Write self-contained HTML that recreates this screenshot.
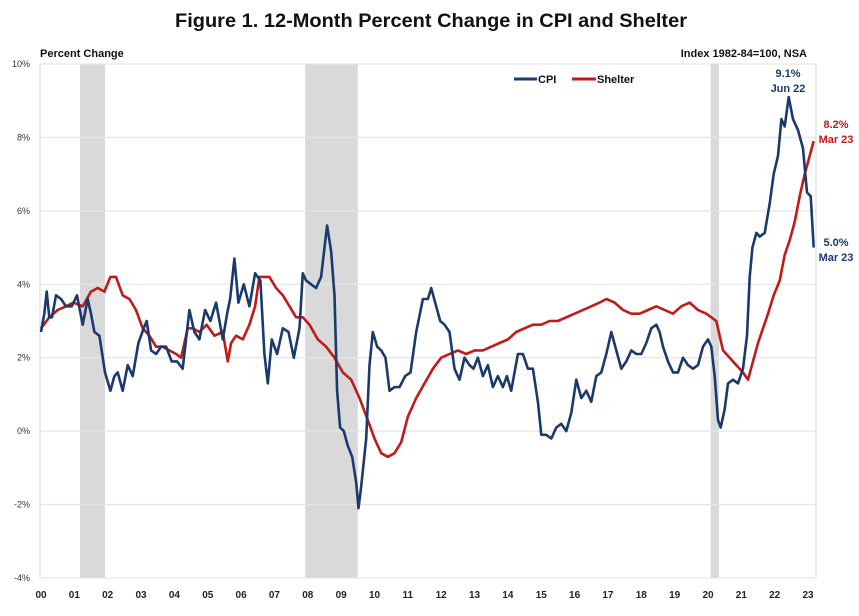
<!DOCTYPE html>
<html><head><meta charset="utf-8"><style>
html,body{margin:0;padding:0;background:#fff;}
svg{display:block;font-family:"Liberation Sans",sans-serif;}
</style></head><body>
<svg id="chart" width="859" height="616" viewBox="0 0 859 616" xmlns="http://www.w3.org/2000/svg">
<text x="431" y="27" text-anchor="middle" font-size="19" font-weight="bold" fill="#111" textLength="512" lengthAdjust="spacingAndGlyphs">Figure 1. 12-Month Percent Change in CPI and Shelter</text>
<text x="40" y="57" font-size="11" font-weight="bold" fill="#111">Percent Change</text>
<text x="807" y="57" text-anchor="end" font-size="11" font-weight="bold" fill="#111">Index 1982-84=100, NSA</text>
<g id="rec"></g>
<g id="grid"></g>
<g id="yt"></g>
<g id="xt"></g>
<g id="lines"></g>
<g>
<line x1="514" y1="79" x2="537" y2="79" stroke="#1a3a6e" stroke-width="3"/>
<text x="538" y="83" font-size="11" font-weight="bold" fill="#111">CPI</text>
<line x1="572" y1="79" x2="596" y2="79" stroke="#c01a1a" stroke-width="3"/>
<text x="597" y="83" font-size="11" font-weight="bold" fill="#111">Shelter</text>
</g>
<g font-size="11" font-weight="bold" text-anchor="middle">
<text x="788" y="77" fill="#1a3a6e">9.1%</text>
<text x="788" y="92" fill="#1a3a6e">Jun 22</text>
<text x="836" y="128" fill="#c01a1a">8.2%</text>
<text x="836" y="143" fill="#c01a1a">Mar 23</text>
<text x="836" y="246" fill="#1a3a6e">5.0%</text>
<text x="836" y="261" fill="#1a3a6e">Mar 23</text>
</g>
</svg>
<script>
const yTicks=[10,8,6,4,2,0,-2,-4];
const xLabels=["00","01","02","03","04","05","06","07","08","09","10","11","12","13","14","15","16","17","18","19","20","21","22","23"];
const recStart=[2001.17,2007.92,2020.08];
const recEnd=[2001.92,2009.5,2020.33];
const cpiDates=[2000,2000.1,2000.17,2000.25,2000.33,2000.45,2000.6,2000.75,2000.92,2001.08,2001.25,2001.4,2001.5,2001.6,2001.75,2001.92,2002.08,2002.2,2002.3,2002.45,2002.6,2002.75,2002.92,2003.08,2003.17,2003.3,2003.45,2003.6,2003.75,2003.92,2004.08,2004.25,2004.45,2004.6,2004.75,2004.92,2005.08,2005.25,2005.45,2005.58,2005.67,2005.8,2005.92,2006.08,2006.25,2006.42,2006.58,2006.7,2006.8,2006.92,2007.08,2007.25,2007.42,2007.58,2007.75,2007.85,2007.95,2008.1,2008.25,2008.4,2008.5,2008.58,2008.7,2008.8,2008.88,2008.97,2009.08,2009.2,2009.33,2009.45,2009.52,2009.6,2009.75,2009.85,2009.95,2010.08,2010.2,2010.33,2010.45,2010.6,2010.75,2010.92,2011.08,2011.25,2011.45,2011.6,2011.7,2011.85,2011.97,2012.1,2012.25,2012.4,2012.55,2012.7,2012.85,2012.97,2013.1,2013.25,2013.4,2013.55,2013.7,2013.85,2013.97,2014.1,2014.3,2014.45,2014.6,2014.75,2014.9,2015.0,2015.15,2015.3,2015.45,2015.6,2015.75,2015.9,2016.05,2016.2,2016.35,2016.5,2016.65,2016.8,2016.95,2017.1,2017.25,2017.4,2017.55,2017.7,2017.85,2018.0,2018.15,2018.3,2018.45,2018.55,2018.65,2018.8,2018.95,2019.1,2019.25,2019.4,2019.55,2019.7,2019.85,2020.0,2020.1,2020.2,2020.3,2020.38,2020.5,2020.6,2020.75,2020.9,2021.05,2021.17,2021.25,2021.33,2021.45,2021.55,2021.7,2021.85,2021.97,2022.1,2022.2,2022.3,2022.42,2022.55,2022.7,2022.85,2022.97,2023.08,2023.17];
const cpiValues=[2.7,3.2,3.8,3.1,3.1,3.7,3.6,3.4,3.4,3.7,2.9,3.6,3.2,2.7,2.6,1.6,1.1,1.5,1.6,1.1,1.8,1.5,2.4,2.8,3.0,2.2,2.1,2.3,2.3,1.9,1.9,1.7,3.3,2.7,2.5,3.3,3.0,3.5,2.5,3.2,3.6,4.7,3.5,4.0,3.4,4.3,4.1,2.1,1.3,2.5,2.1,2.8,2.7,2.0,2.8,4.3,4.1,4.0,3.9,4.2,5.0,5.6,4.9,3.7,1.1,0.1,0.0,-0.4,-0.7,-1.4,-2.1,-1.5,-0.2,1.8,2.7,2.3,2.2,2.0,1.1,1.2,1.2,1.5,1.6,2.7,3.6,3.6,3.9,3.4,3.0,2.9,2.7,1.7,1.4,2.0,1.8,1.7,2.0,1.5,1.8,1.2,1.5,1.2,1.5,1.1,2.1,2.1,1.7,1.7,0.8,-0.1,-0.1,-0.2,0.1,0.2,0.0,0.5,1.4,0.9,1.1,0.8,1.5,1.6,2.1,2.7,2.2,1.7,1.9,2.2,2.1,2.1,2.4,2.8,2.9,2.7,2.3,1.9,1.6,1.6,2.0,1.8,1.7,1.8,2.3,2.5,2.3,1.5,0.3,0.1,0.6,1.3,1.4,1.3,1.7,2.6,4.2,5.0,5.4,5.3,5.4,6.2,7.0,7.5,8.5,8.3,9.1,8.5,8.2,7.7,6.5,6.4,5.0];
const shelterDates=[2000,2000.25,2000.5,2000.75,2000.97,2001.25,2001.5,2001.7,2001.9,2002.08,2002.25,2002.45,2002.65,2002.85,2003.05,2003.25,2003.45,2003.65,2003.85,2004.05,2004.2,2004.4,2004.55,2004.75,2004.97,2005.2,2005.45,2005.6,2005.7,2005.85,2006.05,2006.25,2006.42,2006.55,2006.7,2006.85,2007.05,2007.25,2007.45,2007.65,2007.85,2008.05,2008.3,2008.55,2008.8,2009.05,2009.3,2009.55,2009.8,2010.0,2010.2,2010.4,2010.6,2010.8,2011.0,2011.25,2011.5,2011.75,2012.0,2012.25,2012.5,2012.75,2013.0,2013.25,2013.5,2013.75,2014.0,2014.25,2014.5,2014.75,2015.0,2015.25,2015.5,2015.75,2016.0,2016.25,2016.5,2016.75,2016.95,2017.2,2017.45,2017.7,2017.95,2018.2,2018.45,2018.7,2018.95,2019.2,2019.45,2019.7,2019.95,2020.1,2020.25,2020.45,2020.65,2020.85,2021.05,2021.2,2021.35,2021.5,2021.65,2021.8,2021.97,2022.15,2022.3,2022.45,2022.6,2022.75,2022.9,2023.05,2023.17];
const shelterValues=[2.8,3.1,3.3,3.4,3.5,3.4,3.8,3.9,3.8,4.2,4.2,3.7,3.6,3.3,2.8,2.6,2.3,2.3,2.2,2.1,2.0,2.8,2.8,2.7,2.9,2.6,2.7,1.9,2.4,2.6,2.5,2.9,3.4,4.2,4.2,4.2,3.9,3.7,3.4,3.1,3.1,2.9,2.5,2.3,2.0,1.6,1.4,0.9,0.3,-0.2,-0.6,-0.7,-0.6,-0.3,0.4,0.9,1.3,1.7,2.0,2.1,2.2,2.1,2.2,2.2,2.3,2.4,2.5,2.7,2.8,2.9,2.9,3.0,3.0,3.1,3.2,3.3,3.4,3.5,3.6,3.5,3.3,3.2,3.2,3.3,3.4,3.3,3.2,3.4,3.5,3.3,3.2,3.1,3.0,2.2,2.0,1.8,1.6,1.4,1.9,2.4,2.8,3.2,3.7,4.1,4.8,5.2,5.7,6.4,7.0,7.5,7.9,8.2];

const L=40,R=816,T=64,B=578,X0=2000,XS=33.35;
const x=d=>L+1+(d-X0)*XS;
const y=v=>T+(10-v)*(B-T)/14;
const NS="http://www.w3.org/2000/svg";
function mk(tag,parent,attrs){const e=document.createElementNS(NS,tag);for(const k in attrs)e.setAttribute(k,attrs[k]);document.getElementById(parent).appendChild(e);return e;}
recStart.forEach((s,i)=>{
  const r=mk('rect','rec',{x:x(s),y:T,width:x(recEnd[i])-x(s),height:B-T,fill:'#d9d9d9'});
  
  
});
yTicks.forEach(v=>{
  const g=mk('line','grid',{x1:L,x2:R,y1:y(v),y2:y(v),stroke:'#e6e6e6','stroke-width':1.3});
  
  
  const t=mk('text','yt',{x:30,y:y(v)+3,'text-anchor':'end','font-size':9,fill:'#333'});
  t.textContent=v+'%';
  
  
});
const ax=mk('line','grid',{x1:L,x2:L,y1:T,y2:B,stroke:'#e0e0e0','stroke-width':1.3});


const ax2=mk('line','grid',{x1:R,x2:R,y1:T,y2:B,stroke:'#e0e0e0','stroke-width':1.3});


xLabels.forEach((lab,i)=>{
  const t=mk('text','xt',{x:x(X0+i),y:598,'text-anchor':'middle','font-size':10,'font-weight':'bold',fill:'#222'});
  t.textContent=lab;
  
  
});
function line(ds,vs,col,name){
  const p=mk('path','lines',{d:ds.map((d,i)=>(i?'L':'M')+x(d).toFixed(1)+','+y(vs[i]).toFixed(1)).join(''),fill:'none',stroke:col,'stroke-width':2.6,'stroke-linejoin':'round'});
  
  
}
line(shelterDates,shelterValues,'#c01a1a','shelter-line');
line(cpiDates,cpiValues,'#1a3a6e','cpi-line');
</script>
</body></html>
